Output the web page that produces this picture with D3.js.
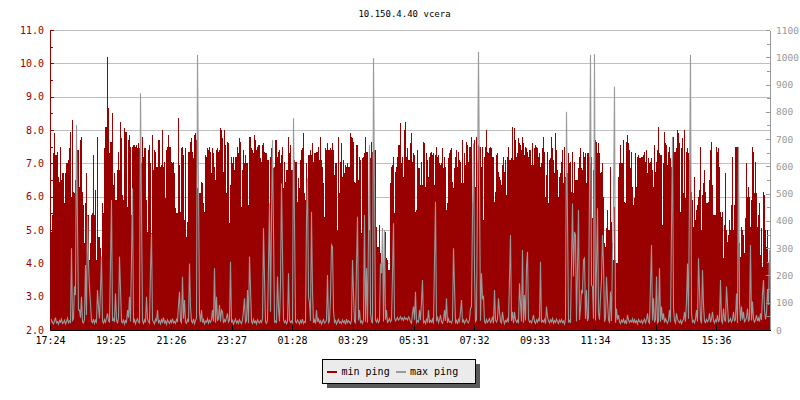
<!DOCTYPE html>
<meta charset="utf-8">
<style>
body { margin: 0; background: #fff; }
svg { display: block; }
text { font-family: "DejaVu Sans Mono", monospace; }
.axis path, .axis line { shape-rendering: crispEdges; }
.grid line { stroke: #c0c0c0; shape-rendering: crispEdges; }
.grid path { display: none; }
</style>
<svg width="800" height="400"></svg>
<script src="https://d3js.org/d3.v7.min.js"></script>
<script>
var title = "10.150.4.40 vcera";
var tickLabels = ["17:24","19:25","21:26","23:27","01:28","03:29","05:31","07:32","09:33","11:34","13:35","15:36"];
var leftTicks = [2,3,4,5,6,7,8,9,10,11];
var rightTicks = [0,100,200,300,400,500,600,700,800,900,1000,1100];
var seriesNames = ["min ping", "max ping"];
var seriesColors = ["#990000", "#999999"];

// one sample per 2 minutes, 17:24 -> 17:24 next day
var minPing = [
4.95,4.95,5.45,7.3,7.9,7.25,7.25,7.35,6.6,6.45,
7.5,6.5,6.7,6.7,5.8,6.7,7.0,7.0,7.1,7.45,
7.95,6.0,8.3,6.15,6.1,6.5,6.3,7.4,7.4,6.3,
7.7,7.8,6.15,5.75,4.6,5.8,6.7,5.45,5.45,4.1,
4.6,5.45,5.5,7.25,5.45,6.2,4.1,7.8,4.8,4.8,
4.45,4.2,5.8,5.5,7.45,8.1,8.1,10.2,8.65,7.3,
7.65,7.65,8.5,6.35,6.7,5.9,5.9,6.8,7.35,6.8,
8.25,7.75,6.05,5.9,8.05,7.95,7.95,5.7,7.7,7.85,
7.5,5.45,7.5,7.55,7.55,7.5,7.55,7.45,7.6,7.45,
7.3,7.0,7.8,7.2,7.45,7.45,5.9,4.95,7.4,7.55,
7.0,4.9,7.85,6.8,7.4,7.35,6.9,6.9,7.7,7.7,
6.9,6.95,8.0,6.9,7.05,5.95,7.4,7.5,7.85,7.5,
7.5,7.05,7.0,7.05,6.7,5.65,5.5,5.5,8.35,6.95,
5.55,7.45,7.5,7.25,5.3,7.45,4.8,5.25,7.35,7.35,
7.65,7.75,7.35,7.15,7.85,7.9,7.7,6.25,6.05,6.1,
6.1,6.45,6.4,5.8,5.55,7.25,7.2,7.45,7.4,7.5,
7.35,6.7,7.45,7.3,6.9,6.5,7.4,7.45,7.35,7.4,
8.05,8.0,7.75,6.75,8.0,7.55,6.1,7.65,7.6,5.2,
6.35,7.2,7.0,7.2,6.8,7.2,7.2,7.5,7.3,7.75,
7.65,5.7,6.8,7.4,7.0,7.25,7.0,7.0,5.75,7.8,
7.8,7.45,7.4,7.3,7.85,7.7,7.4,7.5,7.55,7.55,
7.15,7.05,7.55,7.6,7.35,7.3,7.3,7.1,7.1,5.4,
7.2,7.45,7.4,6.85,6.9,7.7,7.7,7.2,7.35,7.4,
7.0,7.25,7.5,6.25,7.05,6.45,6.8,6.8,7.8,7.3,
7.55,6.8,6.8,6.8,7.1,7.05,7.05,5.85,6.55,6.25,
7.1,7.4,7.45,7.9,6.1,5.9,7.0,6.15,7.25,7.25,
7.4,7.25,7.6,7.05,7.3,7.3,7.35,7.35,7.5,7.1,
7.8,7.1,6.9,6.4,5.4,7.45,7.4,7.6,7.4,7.4,
7.45,7.4,7.6,7.4,6.65,7.0,7.0,5.0,7.8,6.1,
7.05,7.6,6.6,7.1,6.7,6.95,6.9,7.0,6.9,6.9,
7.9,7.8,7.75,7.65,6.45,6.4,7.55,7.55,6.5,7.2,
7.1,4.9,7.15,7.2,7.3,7.8,7.35,7.35,5.0,5.0,
7.15,7.65,7.35,7.4,7.4,7.4,5.1,4.5,4.5,5.15,
4.3,4.0,5.05,3.7,4.95,4.95,4.15,4.1,3.8,3.8,
6.4,6.9,6.95,7.2,5.5,6.75,6.9,7.2,7.55,7.55,
8.2,7.0,7.2,6.6,8.0,8.25,7.2,7.45,7.1,7.1,
7.6,7.9,7.05,7.3,7.25,5.55,5.6,7.4,6.85,6.85,
6.35,7.05,6.35,7.65,7.6,6.3,7.3,7.1,6.6,7.2,
7.3,7.35,7.25,7.3,6.35,7.25,7.5,7.2,7.25,7.0,
6.95,7.0,7.45,6.85,7.2,6.9,5.6,5.8,7.15,7.3,
7.4,7.45,6.45,6.25,6.85,7.2,7.4,6.9,7.35,7.1,
7.05,6.4,7.7,6.4,7.3,6.95,7.65,7.55,7.05,7.5,
7.5,7.8,5.8,7.45,7.7,6.3,7.8,7.05,7.55,7.5,
7.5,6.9,7.5,5.3,7.2,7.5,8.0,7.35,7.3,7.45,
7.5,7.45,7.2,7.2,5.85,6.15,7.25,7.3,6.75,6.6,
6.5,6.35,6.95,7.2,6.75,7.1,6.05,7.2,7.5,7.1,
7.1,7.15,8.1,7.1,8.05,7.7,7.2,7.3,7.75,7.6,
7.55,7.4,7.8,7.6,7.25,7.5,7.45,7.35,7.2,7.4,
7.4,6.95,7.6,6.95,7.45,7.55,7.5,7.45,7.2,7.3,
6.9,7.0,7.45,7.8,7.35,6.0,6.65,7.35,5.8,7.1,
7.15,7.8,7.45,7.1,6.7,7.9,7.4,6.8,6.0,6.6,
6.7,7.05,7.4,6.4,7.5,6.6,7.2,6.7,7.3,7.0,
7.05,6.15,7.35,6.1,7.05,6.5,6.5,6.5,6.85,7.2,
7.45,6.85,6.8,7.35,7.2,7.3,6.4,7.3,7.3,7.2,
7.0,7.2,5.35,6.8,7.0,7.7,7.65,7.3,7.6,7.3,
6.7,6.75,7.0,6.0,4.6,4.5,5.05,5.6,5.0,5.0,
6.9,5.25,4.6,4.1,5.7,4.1,4.0,4.0,6.6,7.0,
7.55,7.0,7.0,7.7,5.85,5.8,7.65,7.85,7.6,7.4,
6.85,7.35,6.3,5.75,5.95,7.3,6.3,7.2,7.25,7.15,
7.15,7.2,7.2,7.25,7.35,7.05,7.4,6.7,7.15,7.0,
7.05,7.15,6.8,6.3,7.55,6.75,7.05,7.4,8.1,7.3,
7.25,7.25,5.15,7.0,7.95,7.6,7.55,6.95,7.35,7.5,
7.15,6.9,7.8,7.8,7.35,7.35,7.45,8.0,7.9,7.6,
5.55,7.45,7.75,6.1,8.0,5.95,7.35,7.45,7.3,7.1,
7.8,6.15,5.9,5.1,6.6,5.3,5.6,5.75,6.0,6.2,
7.5,5.0,6.05,6.4,6.8,6.15,5.8,5.8,5.85,6.5,
7.4,7.65,6.35,5.45,5.45,5.45,7.5,7.35,7.45,6.9,
5.55,5.4,5.55,4.15,5.15,6.7,5.0,4.65,4.85,5.3,
5.0,5.75,7.2,5.0,5.75,7.5,7.5,7.5,5.0,4.6,
4.2,5.1,5.0,4.85,4.3,5.35,7.0,6.0,6.3,6.0,
5.1,5.9,7.5,7.35,6.1,7.05,6.1,5.1,5.45,5.8,
4.25,5.05,3.9,6.15,6.05,5.0,4.5,5.0,4.0,4.1
];

var maxPing = [
24,37,28,22,33,45,26,30,21,35,
29,40,24,27,36,22,31,43,26,33,
28,300,35,41,160,128,752,385,73,73,
45,122,30,26,38,238,55,420,244,153,
98,33,27,40,24,36,29,147,85,42,
147,269,31,25,38,28,44,61,35,27,
250,477,33,41,29,134,37,24,46,269,
153,30,26,39,22,34,28,73,45,122,
31,269,519,27,38,23,35,41,29,26,
868,440,33,24,37,28,122,42,30,25,
220,354,36,29,22,40,31,73,27,34,
23,38,29,45,26,33,21,37,30,24,
35,28,42,26,31,24,39,29,92,140,
33,27,195,41,110,30,24,38,29,244,
85,32,26,40,23,35,44,1008,519,61,
30,73,27,38,22,33,29,41,25,36,
28,39,73,31,226,27,122,34,43,92,
30,73,67,25,38,31,45,61,29,36,
250,27,35,22,31,40,26,33,24,38,
29,23,36,73,116,28,34,147,25,269,
153,31,24,39,27,33,22,37,30,26,
35,28,41,373,189,30,24,36,238,464,
67,410,697,361,29,33,25,196,79,31,
171,538,281,38,27,34,23,30,208,36,
28,33,24,776,397,31,26,37,29,22,
35,27,40,24,31,28,403,556,122,98,
33,434,140,26,37,23,73,30,41,27,
34,22,31,38,25,29,36,202,24,33,
122,312,306,73,28,35,22,31,39,26,
30,24,37,28,33,21,40,27,34,29,
23,36,257,134,31,26,238,415,35,73,
28,33,24,39,422,30,226,27,354,678,
61,32,25,996,513,36,29,40,27,34,
244,208,373,31,367,38,73,26,35,42,
30,37,208,391,44,33,39,46,36,41,
49,38,44,35,47,40,43,37,48,42,
30,25,61,86,38,140,27,34,29,73,
36,104,183,28,33,24,39,31,73,26,
35,29,40,23,250,470,32,49,27,37,
55,30,24,38,73,33,116,26,41,29,
32,25,37,300,165,28,35,22,39,31,
67,110,27,36,24,33,40,29,26,38,
79,86,428,684,220,31,37,525,1020,525,
34,208,116,122,30,25,38,28,35,42,
27,33,49,24,147,36,29,40,116,67,
31,26,67,37,23,35,30,41,28,189,
348,33,67,25,67,38,29,36,24,171,
98,31,293,27,128,35,232,287,40,29,
33,26,38,55,30,24,37,28,41,32,
250,27,35,29,39,23,86,49,33,26,
37,30,42,25,34,28,40,31,24,36,
29,38,27,33,22,41,800,410,30,35,
26,244,464,196,360,348,31,226,440,37,
79,147,134,257,263,40,147,33,45,519,
1008,165,159,41,1012,35,232,446,61,38,
122,183,348,244,30,44,195,110,36,29,
141,33,281,452,892,27,79,38,55,31,
24,36,29,40,26,33,22,55,37,28,
35,30,41,25,38,27,34,23,39,31,
28,36,24,33,40,26,37,61,30,25,
165,312,35,116,28,39,196,24,33,226,
30,86,37,61,27,41,32,25,38,73,
29,379,709,79,34,26,61,40,31,27,
36,23,33,38,67,30,104,244,41,513,
1008,61,29,35,26,40,73,31,263,147,
38,24,220,92,33,27,39,30,36,61,
28,41,67,34,25,37,31,55,29,40,
183,33,26,79,38,30,159,92,27,35,
42,29,36,67,31,40,134,26,672,104,
33,86,39,67,28,37,45,79,31,42,
312,35,104,40,29,38,55,33,44,31,
61,37,134,183,73,39,61,147,92,293
];

var svg = d3.select("svg");
var plotLeft = 50, plotRight = 770, plotTop = 30, plotBottom = 330;

var t0 = new Date(2000, 0, 1, 17, 24);
var t1 = d3.timeDay.offset(t0, 1);
function timeAt(i) { return d3.timeMinute.offset(t0, i * 2); }

var x = d3.scaleTime().domain([t0, t1]).range([plotLeft, plotRight]);
var yL = d3.scaleLinear().domain([2, 11]).range([plotBottom, plotTop]);
var yR = d3.scaleLinear().domain([0, 1100]).range([plotBottom, plotTop]);

var tickTimes = tickLabels.map(function(s) {
  var p = s.split(":");
  var d = new Date(2000, 0, 1, +p[0], +p[1]);
  if (d < t0) d = d3.timeDay.offset(d, 1);
  return d;
});

// title
svg.append("text")
    .attr("x", 404.5)
    .attr("y", 17)
    .attr("text-anchor", "middle")
    .attr("font-size", 9)
    .attr("fill", "#000")
    .text(title);

// horizontal grid
svg.append("g")
    .attr("class", "grid")
    .attr("transform", "translate(" + plotLeft + ",0)")
    .call(d3.axisRight(yL).tickValues(leftTicks.slice(1)).tickSize(plotRight - plotLeft).tickFormat(""));

// min ping area, one column per sample
svg.append("g")
  .selectAll("rect")
  .data(minPing)
  .join("rect")
    .attr("x", function(d, i) { return x(timeAt(i)); })
    .attr("width", function(d, i) { return x(timeAt(i + 1)) - x(timeAt(i)); })
    .attr("y", function(d) { return yL(d); })
    .attr("height", function(d) { return yL(2) - yL(d); })
    .attr("fill", seriesColors[0])
    .attr("shape-rendering", "crispEdges");

// max ping line
var line = d3.line()
    .x(function(d, i) { return x(timeAt(i)) + 0.5; })
    .y(function(d) { return yR(d); });

svg.append("path")
    .datum(maxPing)
    .attr("d", line)
    .attr("fill", "none")
    .attr("stroke", seriesColors[1])
    .attr("stroke-width", 1.1);

// left axis
var gl = svg.append("g")
    .attr("class", "axis")
    .attr("transform", "translate(" + plotLeft + ",0)")
    .call(d3.axisLeft(yL).tickValues(leftTicks).tickSizeInner(-4).tickSizeOuter(0).tickPadding(6)
      .tickFormat(d3.format(".1f")));
svg.append("g")
    .attr("class", "axis")
    .attr("transform", "translate(" + plotLeft + ",0)")
    .call(d3.axisLeft(yL).tickValues(leftTicks.slice(1).map(function(v) { return v - 0.5; }))
      .tickSizeInner(-3).tickSizeOuter(0).tickFormat(""))
    .call(function(g) { g.select(".domain").remove(); })
    .selectAll("line").attr("stroke", seriesColors[0]);
gl.selectAll("path, line").attr("stroke", seriesColors[0]);
gl.selectAll("text").attr("fill", seriesColors[0]).attr("font-size", 10)
    .attr("font-family", "DejaVu Sans Mono");

// right axis
var gr = svg.append("g")
    .attr("class", "axis")
    .attr("transform", "translate(" + plotRight + ",0)")
    .call(d3.axisRight(yR).tickValues(rightTicks).tickSizeInner(-4).tickSizeOuter(0).tickPadding(6)
      .tickFormat(d3.format("d")));
svg.append("g")
    .attr("class", "axis")
    .attr("transform", "translate(" + plotRight + ",0)")
    .call(d3.axisRight(yR).tickValues(rightTicks.slice(1).map(function(v) { return v - 50; }))
      .tickSizeInner(-3).tickSizeOuter(0).tickFormat(""))
    .call(function(g) { g.select(".domain").remove(); })
    .selectAll("line").attr("stroke", seriesColors[1]);
gr.selectAll("path, line").attr("stroke", seriesColors[1]);
gr.selectAll("text").attr("fill", seriesColors[1]).attr("font-size", 9.5)
    .attr("font-family", "DejaVu Sans Mono");

// bottom axis
var gb = svg.append("g")
    .attr("class", "axis")
    .attr("transform", "translate(0," + plotBottom + ")")
    .call(d3.axisBottom(x).tickValues(tickTimes).tickSizeInner(-5).tickSizeOuter(0).tickPadding(7)
      .tickFormat(d3.timeFormat("%H:%M")));
gb.selectAll("path, line").attr("stroke", "#000");
gb.selectAll("text").attr("fill", "#000").attr("font-size", 10)
    .attr("font-family", "DejaVu Sans Mono");

// legend
var legend = svg.append("g").attr("shape-rendering", "crispEdges");
legend.append("rect")
    .attr("x", 326.5).attr("y", 363.5).attr("width", 153).attr("height", 24)
    .attr("fill", "#595959");
legend.append("rect")
    .attr("x", 322.5).attr("y", 359.5).attr("width", 153).attr("height", 24)
    .attr("fill", "#ebebeb").attr("stroke", "#000");

var item = svg.append("g")
  .selectAll("g")
  .data(seriesNames)
  .join("g")
    .attr("transform", function(d, i) { return "translate(" + (327 + i * 68.5) + ",0)"; });
item.append("rect")
    .attr("x", 0).attr("y", 371).attr("width", 10).attr("height", 2)
    .attr("fill", function(d, i) { return seriesColors[i]; })
    .attr("shape-rendering", "crispEdges");
item.append("text")
    .attr("x", 14.5)
    .attr("y", 375)
    .attr("font-size", 10)
    .attr("fill", "#000")
    .text(function(d) { return d; });
</script>
